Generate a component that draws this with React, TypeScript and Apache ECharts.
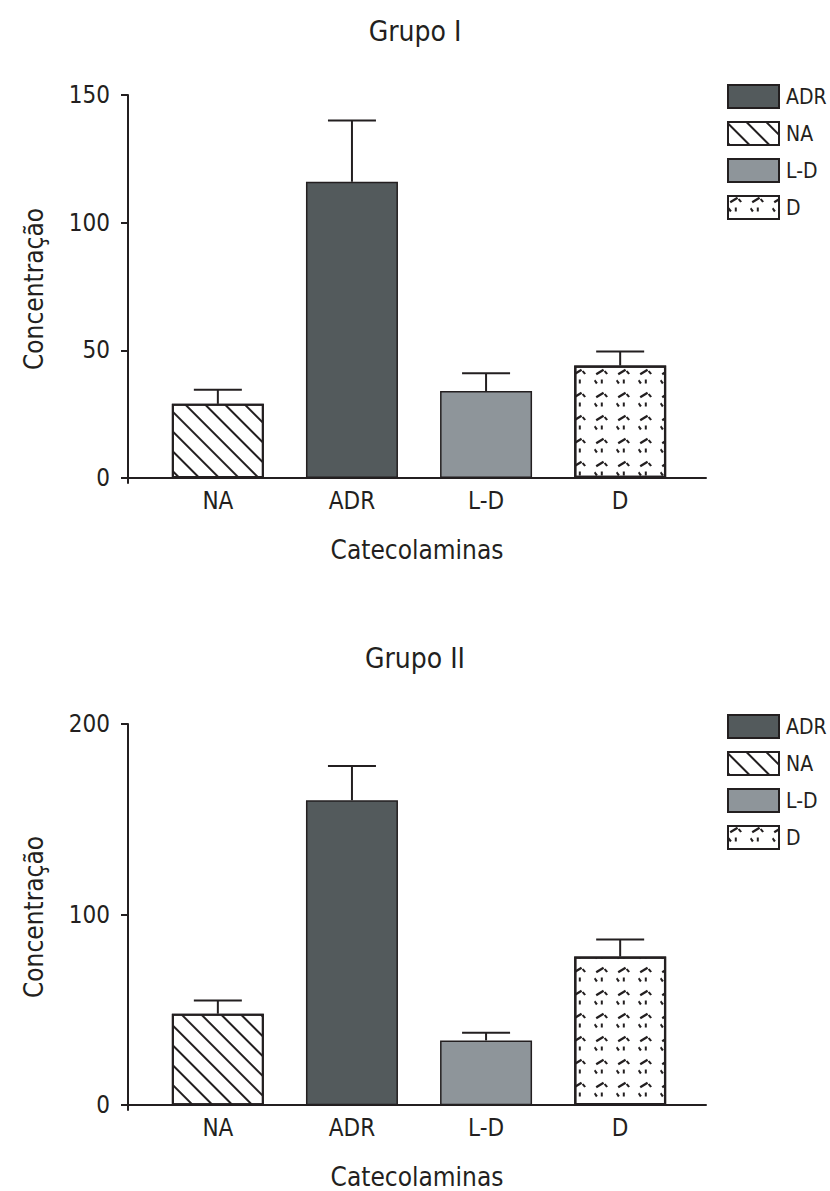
import React, { useEffect, useRef } from "react";
import * as echarts from "echarts";

const categories = ["NA", "ADR", "L-D", "D"];
const legendOrder = ["ADR", "NA", "L-D", "D"];
const titles = ["Grupo I", "Grupo II"];
const group1Means = [29, 116, 34, 44];
const group1Errors = [5.5, 24, 7, 5.5];
const group2Means = [48, 160, 34, 78];
const group2Errors = [7, 18, 4, 9];
const group1Ticks = [0, 50, 100, 150];
const group2Ticks = [0, 100, 200];
const xName = "Catecolaminas";
const yName = "Concentração";

const INK = "#231f20";
const FONT = '"Liberation Sans Narrow", "DejaVu Sans Condensed", "Liberation Sans", sans-serif';

const dotPath =
  "path://M1.6 6.4L9.0 2.0L10.2 4.0L2.8 8.4Z" +
  "M11.5 3.6L14 6.6L12.2 7.8L9.8 4.8Z" +
  "M1.2 12.8L3.8 16.0L2.0 17.4L0 14.2Z" +
  "M6.8 12.8L8.8 12.8L8.8 16.6L6.8 16.6Z";

const styles: Record<string, any> = {
  NA: {
    color: "#ffffff",
    borderColor: INK,
    borderWidth: 2,
    decal: {
      symbol: "rect",
      symbolSize: 1,
      dashArrayX: [1, 0],
      dashArrayY: [1.3, 11.5],
      rotation: Math.PI / 4,
      color: INK,
    },
  },
  ADR: { color: "#535a5c", borderColor: INK, borderWidth: 1.5 },
  "L-D": { color: "#8e959a", borderColor: INK, borderWidth: 1.5 },
  D: {
    color: "#ffffff",
    borderColor: INK,
    borderWidth: 2.2,
    decal: {
      symbol: dotPath,
      symbolSize: 1,
      symbolKeepAspect: true,
      dashArrayX: [14, 8],
      dashArrayY: [17, 6],
      color: INK,
    },
  },
};

function buildGroup(g: number, means: number[], errors: number[]) {
  const bars = categories.map((c, i) => ({
    type: "bar",
    name: c,
    xAxisIndex: g,
    yAxisIndex: g,
    barWidth: 92,
    barGap: "-100%",
    itemStyle: styles[c],
    data: [[i + 1, means[i]]],
    z: 2,
  }));
  const err = {
    type: "custom",
    name: "err" + g,
    xAxisIndex: g,
    yAxisIndex: g,
    z: 5,
    data: categories.map((c, i) => [i + 1, means[i], errors[i]]),
    renderItem: (params: any, api: any) => {
      const x = api.value(0);
      const v = api.value(1);
      const e = api.value(2);
      const base = api.coord([x, v]);
      const top = api.coord([x, v + e]);
      const half = 24;
      return {
        type: "group",
        children: [
          {
            type: "line",
            shape: { x1: base[0], y1: base[1], x2: top[0], y2: top[1] },
            style: { stroke: INK, lineWidth: 2 },
          },
          {
            type: "line",
            shape: { x1: top[0] - half, y1: top[1], x2: top[0] + half, y2: top[1] },
            style: { stroke: INK, lineWidth: 2 },
          },
        ],
      };
    },
  };
  return [...bars, err];
}

function xAxis(g: number) {
  return {
    type: "value",
    gridIndex: g,
    min: 0.33,
    max: 4.64,
    name: xName,
    nameLocation: "middle",
    nameGap: 54,
    nameTextStyle: { fontSize: 26, color: INK, fontFamily: FONT },
    axisLine: { onZero: true, lineStyle: { color: INK, width: 2 } },
    axisTick: { show: false },
    splitLine: { show: false },
    axisLabel: {
      customValues: [1, 2, 3, 4],
      formatter: (v: number) => categories[Math.round(v) - 1] ?? "",
      fontSize: 24,
      color: INK,
      fontFamily: FONT,
      margin: 6,
    },
  };
}

function yAxis(g: number, min: number, ticks: number[]) {
  return {
    type: "value",
    gridIndex: g,
    min,
    max: ticks[ticks.length - 1],
    name: yName,
    nameLocation: "middle",
    nameGap: 81,
    nameTextStyle: { fontSize: 26, color: INK, fontFamily: FONT },
    axisLine: { show: true, lineStyle: { color: INK, width: 2 } },
    axisTick: { show: true, length: 7, customValues: ticks, lineStyle: { color: INK, width: 2 } },
    splitLine: { show: false },
    axisLabel: { customValues: ticks, fontSize: 24, color: INK, fontFamily: FONT, margin: 18 },
  };
}

function legend(top: number) {
  return {
    orient: "vertical",
    left: 722,
    top,
    itemWidth: 51,
    itemHeight: 23,
    itemGap: 12,
    icon: "rect",
    selectedMode: false,
    data: legendOrder,
    textStyle: { fontSize: 21, color: INK, fontFamily: FONT, padding: [0, 0, 0, 2] },
  };
}

export default function App() {
  const ref = useRef<HTMLDivElement>(null);
  useEffect(() => {
    if (!ref.current) return;
    const chart = echarts.init(ref.current, undefined, { renderer: "svg" });
    chart.setOption({
      animation: false,
      backgroundColor: "#ffffff",
      title: [
        { text: titles[0], left: "center", top: 12, textStyle: { fontSize: 28, fontWeight: "normal", color: INK, fontFamily: FONT } },
        { text: titles[1], left: "center", top: 639, textStyle: { fontSize: 28, fontWeight: "normal", color: INK, fontFamily: FONT } },
      ],
      legend: [legend(79), legend(709)],
      grid: [
        { left: 128, right: 124, top: 95, height: 388 },
        { left: 128, right: 124, top: 724, height: 388 },
      ],
      xAxis: [xAxis(0), xAxis(1)],
      yAxis: [yAxis(0, -2, group1Ticks), yAxis(1, -2.5, group2Ticks)],
      series: [...buildGroup(0, group1Means, group1Errors), ...buildGroup(1, group2Means, group2Errors)],
    });
    return () => chart.dispose();
  }, []);
  return <div ref={ref} style={{ position: "absolute", left: 0, top: 0, width: 830, height: 1191 }} />;
}
